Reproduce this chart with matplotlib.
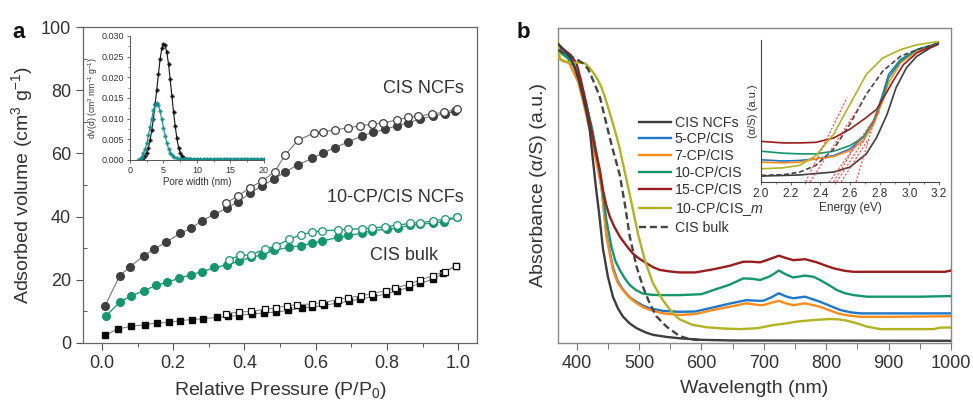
import matplotlib
matplotlib.use('Agg')
import matplotlib.pyplot as plt
from matplotlib.ticker import MultipleLocator, NullLocator

plt.rcParams['font.family'] = ['Liberation Sans', 'DejaVu Sans']
plt.rcParams['mathtext.fontset'] = 'custom'
plt.rcParams['mathtext.rm'] = 'Liberation Sans'
plt.rcParams['mathtext.it'] = 'Liberation Sans:italic'
plt.rcParams['mathtext.bf'] = 'Liberation Sans:bold'

TXT = '#333333'

# ---------------- Panel a: N2 isotherms ----------------
ncf_ads_p = [0.009, 0.05, 0.08, 0.117, 0.147, 0.18, 0.22, 0.25, 0.28, 0.316, 0.35, 0.382, 0.416, 0.449,
             0.483, 0.515, 0.551, 0.589, 0.622, 0.654, 0.692, 0.729, 0.762, 0.795, 0.828, 0.86, 0.893,
             0.93, 0.963, 0.992]
ncf_ads_v = [11.8, 21.3, 24.2, 27.6, 29.7, 31.9, 34.7, 36.3, 38.6, 40.8, 42.6, 44.7, 47.4, 49.7,
             51.9, 54.2, 56.4, 58.4, 60.2, 61.8, 63.7, 65.5, 66.7, 67.6, 68.8, 69.7, 70.9, 71.9, 72.5, 73.4]
ncf_des_p = [0.349, 0.382, 0.416, 0.45, 0.485, 0.514, 0.551, 0.594, 0.622, 0.654, 0.692, 0.725, 0.758,
             0.79, 0.828, 0.86, 0.888, 0.926, 0.959, 0.996]
ncf_des_v = [44.4, 46.5, 49.2, 51.3, 54.2, 59.5, 64.2, 66.4, 66.9, 67.4, 68.2, 68.7, 69.3, 69.7, 70.6,
             71.4, 71.8, 72.5, 73.0, 74.0]

cp_ads_p = [0.012, 0.05, 0.081, 0.119, 0.151, 0.182, 0.217, 0.25, 0.282, 0.316, 0.35, 0.384, 0.418,
            0.45, 0.484, 0.524, 0.558, 0.589, 0.619, 0.662, 0.692, 0.729, 0.759, 0.799, 0.832, 0.864,
            0.894, 0.928, 0.96, 0.997]
cp_ads_v = [8.6, 12.9, 14.9, 16.6, 18.2, 19.2, 20.5, 21.6, 22.6, 23.9, 24.7, 25.8, 27.1, 27.9, 29.3,
            30.3, 30.8, 31.6, 32.3, 33.4, 34.1, 34.7, 35.6, 36.0, 36.3, 37.4, 37.6, 37.9, 38.4, 39.8]
cp_des_p = [0.356, 0.388, 0.418, 0.458, 0.489, 0.524, 0.558, 0.589, 0.619, 0.662, 0.692, 0.729, 0.759,
            0.794, 0.827, 0.864, 0.894, 0.928, 0.963, 0.997]
cp_des_v = [26.3, 27.7, 27.9, 29.7, 30.7, 32.8, 34.2, 35.1, 35.5, 35.8, 36.0, 36.2, 36.3, 36.8, 37.2,
            37.9, 38.1, 38.6, 39.2, 39.8]

bulk_ads_p = [0.009, 0.044, 0.082, 0.12, 0.154, 0.187, 0.22, 0.252, 0.285, 0.322, 0.355, 0.386, 0.421,
              0.455, 0.489, 0.523, 0.561, 0.591, 0.623, 0.659, 0.694, 0.724, 0.762, 0.797, 0.829, 0.863,
              0.894, 0.93, 0.958, 0.993]
bulk_ads_v = [2.4, 4.4, 5.3, 5.8, 6.3, 6.5, 7.1, 7.4, 7.7, 8.1, 8.4, 8.7, 9.2, 9.5, 9.8, 10.3, 11.1,
              11.4, 11.9, 12.6, 13.2, 13.9, 14.7, 15.5, 16.5, 17.7, 18.9, 20.2, 22.1, 24.4]
bulk_des_p = [0.349, 0.386, 0.418, 0.458, 0.489, 0.519, 0.547, 0.589, 0.619, 0.662, 0.692, 0.726, 0.757,
              0.797, 0.822, 0.863, 0.894, 0.928, 0.963, 0.993]
bulk_des_v = [9.3, 9.8, 10.0, 10.7, 11.1, 11.8, 12.1, 12.4, 12.8, 13.7, 14.4, 14.9, 15.6, 16.6, 17.4,
              18.6, 20.0, 21.3, 22.6, 24.5]

# Pore size distribution (inset a)
psd_ncf_w = [1.5, 1.75, 2.0, 2.25, 2.5, 2.75, 3.0, 3.25, 3.5, 3.75, 4.0, 4.25, 4.5, 4.75, 5.0, 5.25,
             5.5, 5.75, 6.0, 6.25, 6.5, 6.75, 7.0, 7.25, 7.5, 7.75, 8.0, 8.5, 9.0, 9.5, 10.0]
psd_ncf_v = [0.0, 0.0002, 0.0005, 0.001, 0.0018, 0.003, 0.0048, 0.0072, 0.010, 0.0135, 0.017, 0.0208,
             0.0245, 0.027, 0.028, 0.0277, 0.026, 0.0232, 0.0195, 0.0155, 0.0115, 0.0082, 0.0052,
             0.003, 0.0017, 0.0009, 0.0005, 0.0003, 0.0002, 0.0001, 0.0001]
psd_cp_w = [1.25, 1.5, 1.75, 2.0, 2.25, 2.5, 2.75, 3.0, 3.25, 3.5, 3.75, 4.0, 4.25, 4.5, 4.75, 5.0,
            5.25, 5.5, 5.75, 6.0, 6.25, 6.5, 7.0, 7.5, 8.0, 8.5, 9.0, 9.5, 10.0, 10.5, 11.0, 11.5,
            12.0, 12.5, 13.0, 13.5, 14.0, 14.5, 15.0, 15.5, 16.0, 16.5, 17.0, 17.5, 18.0, 18.5,
            19.0, 19.5, 20.0]
psd_cp_v = [0.0, 0.0003, 0.0008, 0.0016, 0.0027, 0.004, 0.006, 0.008, 0.010, 0.012, 0.0132, 0.0137,
            0.0132, 0.0118, 0.0098, 0.0078, 0.0058, 0.0041, 0.0027, 0.0017, 0.0011, 0.0007, 0.0004,
            0.0003, 0.0003, 0.0003, 0.0003, 0.0003, 0.0003, 0.0003, 0.0003, 0.0003, 0.0003, 0.0003,
            0.0003, 0.0003, 0.0003, 0.0003, 0.0003, 0.0003, 0.0003, 0.0003, 0.0003, 0.0003, 0.0003,
            0.0003, 0.0003, 0.0003, 0.0003]

# ---------------- Panel b: UV-vis ----------------
wl_ncf = [370, 380, 390, 397, 404, 410, 416, 421, 426, 431, 436, 442, 450, 458, 466, 474, 485, 496, 510,
          522, 545, 565, 600, 650, 1000]
ab_ncf = [0.95, 0.93, 0.905, 0.875, 0.83, 0.782, 0.73, 0.676, 0.58, 0.49, 0.41, 0.30, 0.21, 0.147, 0.11,
          0.084, 0.062, 0.047, 0.034, 0.026, 0.019, 0.015, 0.010, 0.008, 0.007]

wl_5 = [370, 385, 395, 405, 415, 425, 432, 440, 447.6, 458, 466, 474, 485, 496, 507, 517, 538, 565, 590,
        619, 645, 672, 690, 699, 712, 724, 735, 747, 766, 790, 806, 822, 840, 855, 1000]
ab_5 = [0.935, 0.91, 0.885, 0.83, 0.76, 0.67, 0.59, 0.49, 0.345, 0.24, 0.195, 0.17, 0.145, 0.13, 0.118,
        0.11, 0.102, 0.099, 0.10, 0.113, 0.125, 0.136, 0.134, 0.134, 0.145, 0.158, 0.148, 0.142, 0.147,
        0.131, 0.118, 0.105, 0.097, 0.094, 0.094]

wl_7 = [370, 388, 402, 410, 418, 425, 432, 440, 447.6, 458, 466, 474, 485, 496, 507, 517, 538, 565, 590,
        619, 645, 672, 690, 699, 712, 724, 735, 747, 766, 790, 806, 822, 840, 855, 900, 1000]
ab_7 = [0.905, 0.888, 0.83, 0.77, 0.70, 0.64, 0.57, 0.49, 0.338, 0.232, 0.19, 0.168, 0.143, 0.126, 0.113,
        0.105, 0.094, 0.089, 0.092, 0.105, 0.115, 0.126, 0.121, 0.12, 0.128, 0.134, 0.126, 0.12, 0.126,
        0.115, 0.103, 0.092, 0.086, 0.083, 0.083, 0.085]

wl_10 = [370, 385, 395, 405, 415, 425, 432, 440, 447.6, 455.6, 462, 469, 477, 485, 495, 506, 520, 533, 565,
         600, 619, 645, 667, 680, 694, 710, 724, 735, 747, 766, 780, 790, 805, 817, 830, 844, 865, 950, 1000]
ab_10 = [0.928, 0.905, 0.88, 0.83, 0.76, 0.676, 0.60, 0.507, 0.39, 0.306, 0.26, 0.232, 0.205, 0.184, 0.168,
         0.157, 0.153, 0.152, 0.152, 0.155, 0.168, 0.185, 0.205, 0.204, 0.20, 0.212, 0.23, 0.218, 0.208,
         0.214, 0.21, 0.20, 0.183, 0.168, 0.158, 0.152, 0.147, 0.147, 0.149]

wl_15 = [370, 380, 390, 399.5, 406, 412.8, 418, 423.5, 430, 437, 442, 447, 453, 460, 469, 480, 490, 500,
         512, 522, 533, 550, 565, 590, 619, 645, 667, 680, 694, 704.5, 724, 735, 747, 766, 785, 800, 812,
         830, 844, 900, 990, 1000]
ab_15 = [0.942, 0.93, 0.915, 0.888, 0.84, 0.782, 0.73, 0.676, 0.61, 0.549, 0.486, 0.44, 0.401, 0.37, 0.338,
         0.308, 0.284, 0.268, 0.253, 0.241, 0.232, 0.227, 0.224, 0.224, 0.234, 0.245, 0.258, 0.258, 0.256,
         0.263, 0.277, 0.27, 0.263, 0.266, 0.256, 0.245, 0.237, 0.229, 0.226, 0.226, 0.226, 0.23]

wl_m = [370, 373, 380, 395, 405, 413, 420, 427, 434, 440, 445, 453, 461, 468, 474, 480, 488, 498, 509, 522,
        538, 554, 565, 585, 608, 635, 662, 690, 715, 735, 753, 780, 806, 820, 833, 850, 865, 887, 972, 983,
        1000]
ab_m = [0.955, 0.90, 0.893, 0.89, 0.89, 0.888, 0.875, 0.857, 0.835, 0.81, 0.782, 0.73, 0.676, 0.625, 0.57,
        0.517, 0.443, 0.348, 0.264, 0.19, 0.136, 0.094, 0.075, 0.058, 0.05, 0.046, 0.044, 0.047, 0.057,
        0.062, 0.068, 0.073, 0.076, 0.075, 0.071, 0.062, 0.052, 0.044, 0.044, 0.049, 0.049]

wl_bulk = [370, 385, 398, 410, 418, 426, 437, 450, 457, 464, 469, 477, 485, 496, 506, 517, 528, 544, 565,
           580, 600]
ab_bulk = [0.93, 0.915, 0.903, 0.888, 0.87, 0.835, 0.782, 0.676, 0.62, 0.57, 0.533, 0.443, 0.338, 0.242,
           0.179, 0.126, 0.084, 0.052, 0.022, 0.013, 0.008]

uv_labels = ['CIS NCFs', '5-CP/CIS', '7-CP/CIS', '10-CP/CIS', '15-CP/CIS', '10-CP/CIS_$m$', 'CIS bulk']
uv_colors = ['#3d3d3d', '#1f78c8', '#ff8c1a', '#14976b', '#9b1c1c', '#b3b322', '#444444']

# Inset b: normalized (alpha/S) vs energy
en_ncf = [2.0, 2.26, 2.49, 2.6, 2.71, 2.78, 2.85, 2.91, 2.98, 3.05, 3.14, 3.2]
ks_ncf = [0.042, 0.05, 0.071, 0.106, 0.20, 0.318, 0.482, 0.67, 0.812, 0.894, 0.953, 0.981]
en_5 = [2.0, 2.15, 2.26, 2.37, 2.49, 2.6, 2.69, 2.76, 2.82, 2.86, 2.94, 3.05, 3.2]
ks_5 = [0.158, 0.149, 0.153, 0.165, 0.188, 0.235, 0.318, 0.435, 0.624, 0.765, 0.871, 0.941, 0.988]
en_7 = [2.0, 2.15, 2.26, 2.37, 2.49, 2.6, 2.69, 2.76, 2.82, 2.86, 2.94, 3.05, 3.2]
ks_7 = [0.141, 0.136, 0.141, 0.165, 0.181, 0.224, 0.294, 0.412, 0.576, 0.706, 0.847, 0.929, 0.988]
en_10 = [2.0, 2.15, 2.26, 2.37, 2.49, 2.6, 2.69, 2.76, 2.82, 2.86, 2.94, 3.05, 3.2]
ks_10 = [0.219, 0.205, 0.20, 0.20, 0.219, 0.259, 0.318, 0.435, 0.60, 0.741, 0.859, 0.941, 0.988]
en_15 = [2.0, 2.15, 2.26, 2.37, 2.49, 2.6, 2.71, 2.78, 2.82, 2.89, 2.96, 3.05, 3.2]
ks_15 = [0.289, 0.278, 0.278, 0.282, 0.313, 0.376, 0.459, 0.518, 0.588, 0.718, 0.835, 0.918, 0.988]
en_m = [2.0, 2.15, 2.26, 2.37, 2.49, 2.6, 2.71, 2.82, 2.94, 3.05, 3.2]
ks_m = [0.094, 0.101, 0.118, 0.188, 0.341, 0.553, 0.765, 0.882, 0.941, 0.976, 1.0]
en_bulk = [2.0, 2.15, 2.26, 2.37, 2.49, 2.6, 2.71, 2.82, 2.94, 3.05, 3.2]
ks_bulk = [0.047, 0.052, 0.07, 0.118, 0.235, 0.412, 0.624, 0.788, 0.894, 0.941, 0.988]

# Tauc-type tangent lines: (E at baseline, E at top, y at top)
tan_e0 = [2.30, 2.33, 2.46, 2.49, 2.51, 2.54, 2.64]
tan_e1 = [2.58, 2.67, 2.80, 2.67, 2.70, 2.72, 2.79]
tan_y1 = [0.60, 0.55, 0.50, 0.32, 0.31, 0.30, 0.53]

# ------------------------------------------------------------
fig = plt.figure(figsize=(9.73, 4.04), dpi=100)

# Panel a
axa = fig.add_axes([0.0853, 0.151, 0.405, 0.782])
gray_d = '#3f3f3f'
green = '#14976b'
axa.plot(bulk_ads_p, bulk_ads_v, '-', color='#777777', lw=0.7, marker='s', ms=5,
         mfc='#0a0a0a', mec='#0a0a0a', zorder=3)
axa.plot(bulk_des_p, bulk_des_v, '-', color='#777777', lw=0.7, marker='s', ms=5,
         mfc='white', mec='#0a0a0a', mew=0.9, zorder=4)
axa.plot(cp_ads_p, cp_ads_v, '-', color=green, lw=0.9, marker='o', ms=5.5,
         mfc=green, mec=green, zorder=3)
axa.plot(cp_des_p, cp_des_v, '-', color=green, lw=0.9, marker='o', ms=5.5,
         mfc='white', mec=green, mew=0.9, zorder=4)
axa.plot(ncf_ads_p, ncf_ads_v, '-', color='#777777', lw=0.8, marker='o', ms=5.5,
         mfc=gray_d, mec=gray_d, zorder=3)
axa.plot(ncf_des_p, ncf_des_v, '-', color='#777777', lw=0.8, marker='o', ms=5.5,
         mfc='white', mec=gray_d, mew=0.9, zorder=4)

axa.set_xlim(-0.053, 1.053)
axa.set_ylim(0, 100)
axa.xaxis.set_major_locator(MultipleLocator(0.2))
axa.xaxis.set_minor_locator(MultipleLocator(0.1))
axa.yaxis.set_major_locator(MultipleLocator(20))
axa.yaxis.set_minor_locator(MultipleLocator(10))
axa.tick_params(which='major', direction='out', length=5, width=0.8, colors='#555555',
                labelsize=13, labelcolor=TXT)
axa.tick_params(axis='x', which='minor', direction='out', length=3, width=0.7, colors='#555555')
axa.tick_params(axis='y', which='minor', direction='in', length=3, width=0.7, colors='#555555')
axa.xaxis.set_major_formatter(matplotlib.ticker.FormatStrFormatter('%.1f'))
for s in axa.spines.values():
    s.set_color('#666666')
    s.set_linewidth(0.9)
axa.set_xlabel('Relative Pressure (P/P$_0$)', fontsize=14, color=TXT, labelpad=6)
axa.set_ylabel('Adsorbed volume (cm$^3$ g$^{-1}$)', fontsize=14, color=TXT, labelpad=4)

axa.text(1.017, 80.7, 'CIS NCFs', ha='right', va='center', fontsize=13, color=TXT)
axa.text(1.017, 46.2, '10-CP/CIS NCFs', ha='right', va='center', fontsize=13, color=TXT)
axa.text(0.944, 27.8, 'CIS bulk', ha='right', va='center', fontsize=13, color=TXT)

fig.text(0.0125, 0.905, 'a', fontsize=16, fontweight='bold', color='#111111')

# Inset a
axi = fig.add_axes([0.1336, 0.604, 0.1377, 0.307])
axi.plot(psd_ncf_w, psd_ncf_v, '-', color='#111111', lw=0.8, marker='P', ms=2.8,
         mfc='#111111', mec='#111111', mew=0.2)
axi.plot(psd_cp_w, psd_cp_v, '-', color='#17918f', lw=0.8, marker='P', ms=2.8,
         mfc='#17918f', mec='#17918f', mew=0.2)
axi.set_xlim(0, 20)
axi.set_ylim(0, 0.030)
axi.xaxis.set_major_locator(MultipleLocator(5))
axi.xaxis.set_minor_locator(MultipleLocator(2.5))
axi.yaxis.set_major_locator(MultipleLocator(0.005))
axi.yaxis.set_minor_locator(MultipleLocator(0.0025))
axi.yaxis.set_major_formatter(matplotlib.ticker.FormatStrFormatter('%.3f'))
axi.tick_params(which='major', direction='out', length=2.5, width=0.6, colors='#555555',
                labelsize=6.5, labelcolor=TXT, pad=1.5)
axi.tick_params(which='minor', direction='out', length=1.5, width=0.5, colors='#555555')
axi.spines['top'].set_visible(False)
axi.spines['right'].set_visible(False)
for s in ('left', 'bottom'):
    axi.spines[s].set_color('#555555')
    axi.spines[s].set_linewidth(0.7)
axi.patch.set_alpha(0)
axi.set_xlabel('Pore width (nm)', fontsize=7, color=TXT, labelpad=1.5)
axi.set_ylabel('dV(d) (cm$^3$ nm$^{-1}$ g$^{-1}$)', fontsize=6.2, color=TXT, labelpad=1.5)

# Panel b
axb = fig.add_axes([0.5735, 0.151, 0.4039, 0.7797])
series = [(wl_ncf, ab_ncf), (wl_5, ab_5), (wl_7, ab_7), (wl_10, ab_10), (wl_15, ab_15),
          (wl_m, ab_m), (wl_bulk, ab_bulk)]
for i, ((x, y), lab, col) in enumerate(zip(series, uv_labels, uv_colors)):
    ls = (0, (3, 1.6)) if lab == 'CIS bulk' else '-'
    axb.plot(x, y, linestyle=ls, color=col, lw=1.7, label=lab, zorder=3 + (i == 0))
axb.set_xlim(370, 1000)
axb.set_ylim(0, 1)
axb.xaxis.set_major_locator(MultipleLocator(100))
axb.xaxis.set_minor_locator(MultipleLocator(50))
axb.yaxis.set_major_locator(NullLocator())
axb.tick_params(which='major', direction='out', length=5, width=0.8, colors='#777777',
                labelsize=13, labelcolor=TXT)
axb.tick_params(which='minor', direction='out', length=4, width=0.7, colors='#777777')
for s in axb.spines.values():
    s.set_color('#888888')
    s.set_linewidth(1.0)
axb.set_xlabel('Wavelength (nm)', fontsize=14, color=TXT, labelpad=6)
axb.set_ylabel('Absorbance (α/S) (a.u.)', fontsize=14, color=TXT, labelpad=8)
leg = axb.legend(loc='upper left', bbox_to_anchor=(0.205, 0.722), frameon=False, fontsize=10.2,
                 handlelength=2.3, handletextpad=0.25, labelspacing=0.2, borderpad=0,
                 borderaxespad=0)
for t in leg.get_texts():
    t.set_color(TXT)

fig.text(0.531, 0.905, 'b', fontsize=16, fontweight='bold', color='#111111')

# Inset b
axj = fig.add_axes([0.7821, 0.5495, 0.183, 0.3515])
ins = [(en_ncf, ks_ncf), (en_5, ks_5), (en_7, ks_7), (en_10, ks_10), (en_15, ks_15),
       (en_m, ks_m), (en_bulk, ks_bulk)]
for (x, y), lab, col in zip(ins, uv_labels, uv_colors):
    ls = (0, (3, 1.6)) if lab == 'CIS bulk' else '-'
    axj.plot(x, y, linestyle=ls, color=col, lw=1.2)
for e0, e1, y1 in zip(tan_e0, tan_e1, tan_y1):
    axj.plot([e0, e1], [0.0, y1], linestyle=(0, (2, 1.5)), color='#ff4444', lw=0.8)
axj.set_xlim(2.0, 3.2)
axj.set_ylim(0, 1.01)
axj.xaxis.set_major_locator(MultipleLocator(0.2))
axj.xaxis.set_minor_locator(MultipleLocator(0.1))
axj.xaxis.set_major_formatter(matplotlib.ticker.FormatStrFormatter('%.1f'))
axj.yaxis.set_major_locator(NullLocator())
axj.tick_params(which='major', direction='out', length=2.5, width=0.6, colors='#555555',
                labelsize=8.5, labelcolor=TXT, pad=1.5)
axj.tick_params(which='minor', direction='out', length=1.5, width=0.5, colors='#555555')
axj.spines['top'].set_visible(False)
axj.spines['right'].set_visible(False)
for s in ('left', 'bottom'):
    axj.spines[s].set_color('#444444')
    axj.spines[s].set_linewidth(0.8)
axj.patch.set_alpha(0)
axj.set_xlabel('Energy (eV)', fontsize=8.5, color=TXT, labelpad=2)
axj.set_ylabel('(α/S) (a.u.)', fontsize=8, color=TXT, labelpad=2)

fig.savefig('out.png', dpi=100)
